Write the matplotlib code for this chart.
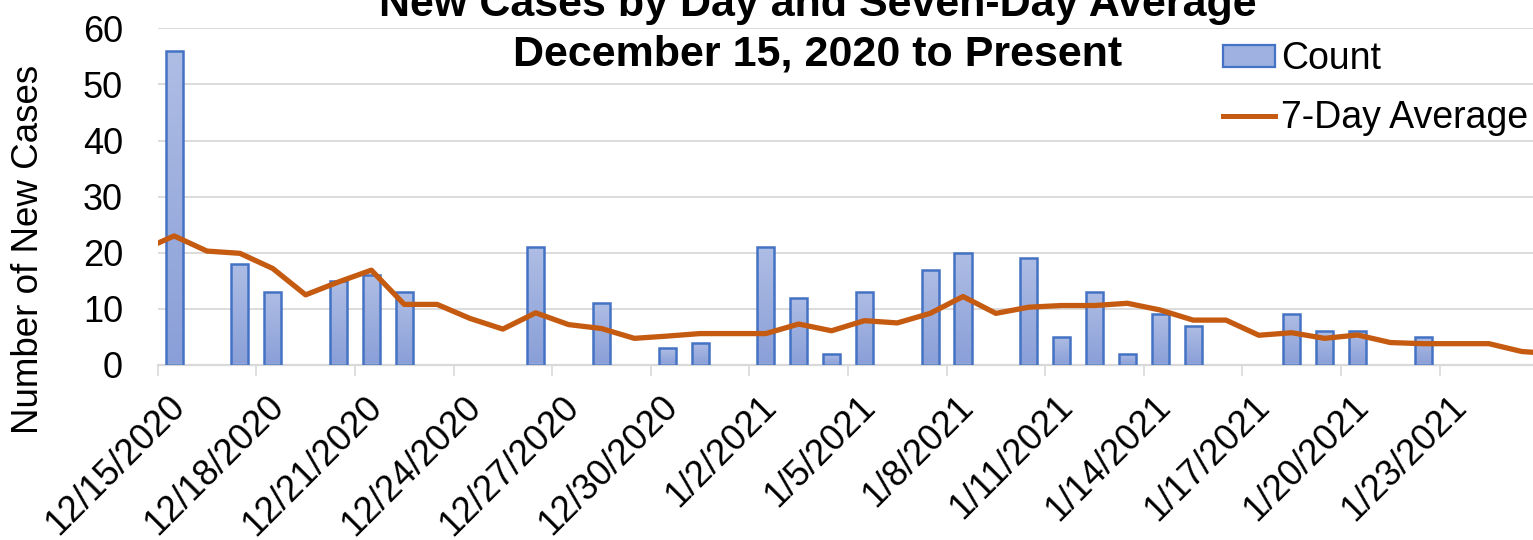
import numpy as np
import pandas as pd
import matplotlib
matplotlib.use("Agg")
import matplotlib.pyplot as plt
from matplotlib.transforms import ScaledTranslation
from matplotlib.patches import Patch
from matplotlib.lines import Line2D
from matplotlib.colors import LinearSegmentedColormap

# ---------------- data ----------------
count_dates = pd.date_range("2020-12-15", "2021-01-25", freq="D")
counts = [56, 0, 18, 13, 0, 15, 16, 13, 0, 0,
          0, 21, 0, 11, 0, 3, 4, 0, 21, 12,
          2, 13, 0, 17, 20, 0, 19, 5, 13, 2,
          9, 7, 0, 0, 9, 6, 6, 0, 5, 0,
          0, 0]
avg_dates = pd.date_range("2020-12-14", "2021-01-26", freq="D")
avg7 = [20.4,
        23.0, 20.3, 19.9, 17.2, 12.5, 14.8, 16.9, 10.8, 10.8, 8.3,
        6.4, 9.3, 7.2, 6.5, 4.75, 5.15, 5.6, 5.6, 5.6, 7.3,
        6.1, 7.9, 7.5, 9.2, 12.2, 9.2, 10.3, 10.6, 10.6, 11.0,
        9.8, 8.0, 8.0, 5.3, 5.75, 4.75, 5.35, 4.0, 3.8, 3.8,
        3.8, 2.4,
        2.0]
tick_labels = ["12/15/2020", "12/18/2020", "12/21/2020", "12/24/2020",
               "12/27/2020", "12/30/2020", "1/2/2021", "1/5/2021",
               "1/8/2021", "1/11/2021", "1/14/2021", "1/17/2021",
               "1/20/2021", "1/23/2021"]
title_lines = ["New Cases by Day and Seven-Day Average",
               "December 15, 2020 to Present"]
ylabel = "Number of New Cases"
legend_labels = ["Count", "7-Day Average"]

# ---------------- style ----------------
plt.rcParams["font.family"] = ["Liberation Sans", "DejaVu Sans"]
W, H = 1533, 540
fig = plt.figure(figsize=(W / 100, H / 100), dpi=100)
fig.patch.set_facecolor("white")

left_px, right_px, bottom_px, top_px = 157.7, 1533, 365, 28.3
ax = fig.add_axes([left_px / W, (H - bottom_px) / H,
                   (right_px - left_px) / W, (bottom_px - top_px) / H])

x_counts = np.array([(d - count_dates[0]).days for d in count_dates])
x_avg = np.array([(d - count_dates[0]).days for d in avg_dates])

grid_c = "#d9d9d9"
bar_edge = "#4472c4"
line_c = "#c55a11"

bw = 0.52
bars = ax.bar(x_counts, counts, width=bw, facecolor="none",
              edgecolor=bar_edge, linewidth=1.8, zorder=3)

cmap = LinearSegmentedColormap.from_list("g", ["#8a9fd8", "#aebde4"])
grad = np.linspace(0, 1, 100).reshape(-1, 1)
for b, c in zip(bars, counts):
    if c <= 0:
        b.set_visible(False)
        continue
    x0 = b.get_x()
    im = ax.imshow(grad, extent=[x0, x0 + b.get_width(), 0, c], origin="lower",
                   aspect="auto", cmap=cmap, zorder=2.5, interpolation="bilinear")
    im.set_clip_path(b)

ax.plot(x_avg, avg7, color=line_c, lw=3.8, zorder=4, solid_joinstyle="round",
        solid_capstyle="butt")

ax.set_xlim(-0.5, 41.34)
ax.set_ylim(0, 60)
ax.set_yticks(np.arange(0, 61, 10))
ax.yaxis.grid(True, color=grid_c, lw=1.3)
ax.set_axisbelow(True)
for s in ["left", "right", "top"]:
    ax.spines[s].set_visible(False)
ax.spines["bottom"].set_color(grid_c)
ax.spines["bottom"].set_linewidth(1.6)
ax.tick_params(axis="y", length=0, pad=25, labelsize=26)

tick_pos = x_counts[::3][:len(tick_labels)] - 0.5
ax.set_xticks(tick_pos)
ax.set_xticklabels(tick_labels, rotation=45, ha="right", va="center",
                   rotation_mode="anchor", fontsize=26)
ax.tick_params(axis="x", direction="out", length=7.9, width=1.2,
               color=grid_c, pad=18.5)
offset = ScaledTranslation(0.22, 0, fig.dpi_scale_trans)
for lab in ax.get_xticklabels():
    lab.set_transform(lab.get_transform() + offset)

fig.text(29 / W, 1 - 249 / H, ylabel, rotation=90, ha="center", va="center",
         fontsize=26.5)

fig.text(818 / W, 1 - 16 / H, title_lines[0], ha="center", va="baseline",
         fontsize=31, fontweight="bold")
fig.text(818 / W, 1 - 65 / H, title_lines[1], ha="center", va="baseline",
         fontsize=31, fontweight="bold")

handles = [Patch(facecolor="#9fb1e0", edgecolor=bar_edge, linewidth=1.6),
           Line2D([0], [0], color=line_c, lw=3.6)]
fig.legend(handles, legend_labels, loc="upper left",
           bbox_to_anchor=(1223 / W, 1 - 41 / H), frameon=False,
           fontsize=27, handlelength=1.39, handleheight=0.51,
           handletextpad=0.16, labelspacing=0.62, borderpad=0,
           borderaxespad=0)

fig.savefig("out.png", dpi=100)
